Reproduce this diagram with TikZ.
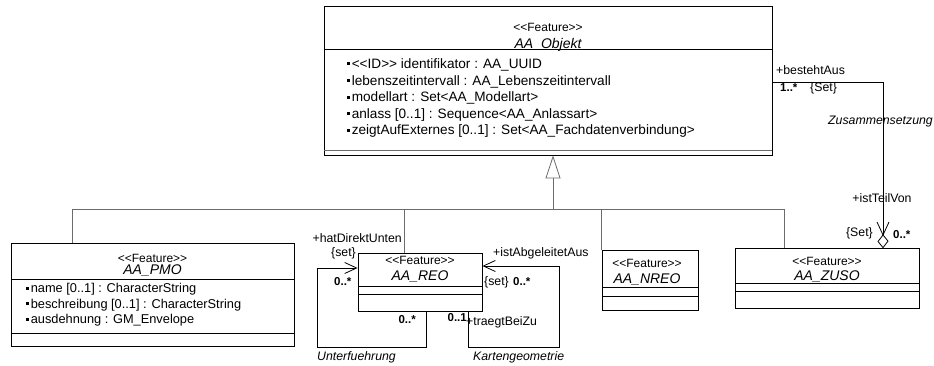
\documentclass[tikz,border=0pt]{standalone}
\usepackage{fontspec}
\setmainfont{Liberation Sans}[Ligatures=NoCommon]
\usetikzlibrary{arrows.meta}
\newcommand\myfs[1]{\fontsize{#1}{#1}\selectfont}
\newcommand\mybul{\rule[3pt]{3pt}{3pt}\hspace{1.6pt}}
\newcommand\llt{<{}<}
\newcommand\ggt{>{}>}
\definecolor{lgray}{gray}{0.42}
\begin{document}
\begin{tikzpicture}[x=1pt,y=-1pt,
  box/.style={draw, line width=0.8pt, inner sep=0pt, rectangle, fill=white},
  sep/.style={line width=0.8pt},
  stereo/.style={font=\myfs{12}, inner sep=0pt, anchor=base},
  cname/.style={font=\myfs{14}\itshape, inner sep=0pt, anchor=base},
  attr/.style={font=\myfs{13.6}, inner sep=0pt, anchor=base west},
  pattr/.style={font=\myfs{12.8}, inner sep=0pt, anchor=base west},
  lbl/.style={font=\myfs{12.3}, inner sep=0pt},
  ilbl/.style={font=\myfs{12.3}\itshape, inner sep=0pt},
  mult/.style={font=\myfs{11.5}\bfseries, inner sep=0pt},
  conn/.style={line width=0.8pt},
  gl/.style={line width=0.9pt, draw=lgray},
  vee/.style={-{Straight Barb[length=12pt,width=11pt,line width=0.8pt]}}
]
\useasboundingbox (0,0) rectangle (934,365);

% ---------- classes ----------
\node[box, minimum width=448pt, minimum height=149pt] (obj) at (548,80.5) {};
\draw[sep] (324,49) -- (772,49);
\draw[sep, draw=lgray, line width=1pt] (324,150) -- (772,150);
\node[stereo] (objst) at (548,31) {\llt Feature\ggt};
\node[cname] (objnm) at (548,48.5) {AA\_Objekt};
\node[attr] (oa1) at (347,68) {\mybul\llt ID\ggt{} identifikator : AA\_UUID};
\node[attr] (oa2) at (347,85) {\mybul lebenszeitintervall : AA\_Lebenszeitintervall};
\node[attr] (oa3) at (347,101.5) {\mybul modellart : Set<AA\_Modellart>};
\node[attr] (oa4) at (347,118) {\mybul anlass [0..1] : Sequence<AA\_Anlassart>};
\node[attr] (oa5) at (347,134.5) {\mybul zeigtAufExternes [0..1] : Set<AA\_Fachdatenverbindung>};

\node[box, minimum width=283pt, minimum height=103pt] (pmo) at (152.5,294.5) {};
\draw[sep] (11,279) -- (294,279);
\draw[sep] (11,333) -- (294,333);
\node[stereo] (pmost) at (152.5,262) {\llt Feature\ggt};
\node[cname] (pmonm) at (152.5,274.5) {AA\_PMO};
\node[pattr] (pa1) at (26,292.5) {\mybul name [0..1] : CharacterString};
\node[pattr] (pa2) at (26,308) {\mybul beschreibung [0..1] : CharacterString};
\node[pattr] (pa3) at (26,323.5) {\mybul ausdehnung : GM\_Envelope};

\node[box, minimum width=124pt, minimum height=58pt] (reo) at (420,282) {};
\draw[sep] (358,286) -- (482,286);
\draw[sep] (358,294) -- (482,294);
\node[stereo] (reost) at (420,264.5) {\llt Feature\ggt};
\node[cname] (reonm) at (420,280.5) {AA\_REO};

\node[box, minimum width=96pt, minimum height=60pt] (nreo) at (650,280) {};
\draw[sep] (602,287) -- (698,287);
\draw[sep] (602,296) -- (698,296);
\node[stereo] (nreost) at (647,267.5) {\llt Feature\ggt};
\node[cname] (nreonm) at (647,283) {AA\_NREO};

\node[box, minimum width=184pt, minimum height=60pt] (zuso) at (827,278) {};
\draw[sep] (735,283) -- (919,283);
\draw[sep] (735,291) -- (919,291);
\node[stereo] (zusost) at (827,265) {\llt Feature\ggt};
\node[cname] (zusonm) at (827,280) {AA\_ZUSO};

% ---------- generalization ----------
\coordinate (g0) at (553,209);
\coordinate (bl) at (72,209);
\coordinate (br) at (784,209);
\coordinate (dr) at (404,209);
\coordinate (dn) at (601,209);
\draw[gl] (pmo.north -| bl) -- (bl) -- (br) -- (zuso.north -| br);
\draw[gl] (dr) -- (reo.north -| dr);
\draw[gl] (dn) -- (nreo.north -| dn);
\draw[gl, -{Triangle[open, length=23pt, width=15pt, line width=0.8pt]}] (g0) -- (obj.south -| g0);

% ---------- Zusammensetzung ----------
\coordinate (ba1) at (883,82);
\coordinate (ba2) at (883,235);
\draw[conn] (obj.east |- ba1) -- (ba1) -- (ba2);
\draw[conn, fill=white] (ba2) -- ++(-5,6.5) -- (zuso.north -| ba2) -- ++(5,-6.5) -- cycle;
\draw[conn] (877,222) -- (ba2) -- (889,222);
\node[lbl, anchor=west] (l1) at (776,70) {+bestehtAus};
\node[mult, anchor=west] (l2) at (780,88) {1..*};
\node[lbl, anchor=west] (l3) at (810,88) {\{Set\}};
\node[ilbl, anchor=east] (l4) at (933,122) {Zusammensetzung};
\node[lbl] (l5) at (882,198) {+istTeilVon};
\node[lbl, anchor=east] (l6) at (873,233) {\{Set\}};
\node[mult, anchor=west] (l7) at (893,235) {0..*};

% ---------- Unterfuehrung ----------
\coordinate (u1) at (317,268);
\coordinate (u2) at (317,347);
\coordinate (u3) at (426,347);
\draw[conn, vee] (reo.south -| u3) -- (u3) -- (u2) -- (u1) -- (reo.west |- u1);
\node[lbl, anchor=east] (m1) at (402,238) {+hatDirektUnten};
\node[lbl, anchor=east] (m2) at (356,253) {\{set\}};
\node[mult, anchor=west] (m3) at (334,282) {0..*};
\node[mult, anchor=east] (m4) at (416,320) {0..*};
\node[ilbl, anchor=west] (m5) at (317,357) {Unterfuehrung};

% ---------- Kartengeometrie ----------
\coordinate (k1) at (468,347);
\coordinate (k2) at (559,347);
\coordinate (k3) at (559,266);
\draw[conn, vee] (reo.south -| k1) -- (k1) -- (k2) -- (k3) -- (reo.east |- k3);
\node[lbl, anchor=west] (n1) at (493,253) {+istAbgeleitetAus};
\node[lbl, anchor=west] (n2) at (484,282) {\{set\}};
\node[mult, anchor=west] (n3) at (513,282) {0..*};
\node[mult, anchor=east] (n4) at (467,318) {0..1};
\node[lbl, anchor=west] (n5) at (466,322) {+traegtBeiZu};
\node[ilbl, anchor=west] (n6) at (473,357) {Kartengeometrie};
\end{tikzpicture}
\end{document}
